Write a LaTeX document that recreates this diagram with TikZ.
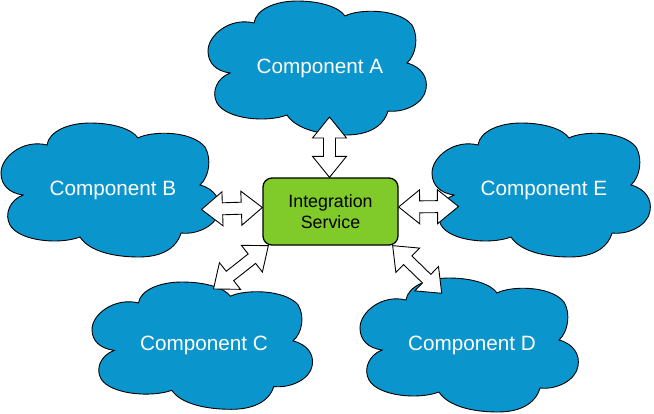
\documentclass[tikz,border=0pt]{standalone}
\usepackage{fontspec}
\setmainfont{Liberation Sans}
\usetikzlibrary{calc}
\definecolor{cloudblue}{RGB}{11,149,205}
\definecolor{svcgreen}{RGB}{128,202,42}
\newcommand\ahl{21pt}
\newcommand\ahw{17pt}
\newcommand\asw{6pt}
\newcommand\dblarrow[2]{%
 \draw[blockarrow] (#1)
  -- ($($(#1)!\ahl!(#2)$)!\ahw!90:(#2)$)
  -- ($($(#1)!\ahl!(#2)$)!\asw!90:(#2)$)
  -- ($($(#2)!\ahl!(#1)$)!\asw!-90:(#1)$)
  -- ($($(#2)!\ahl!(#1)$)!\ahw!-90:(#1)$)
  -- (#2)
  -- ($($(#2)!\ahl!(#1)$)!\ahw!90:(#1)$)
  -- ($($(#2)!\ahl!(#1)$)!\asw!90:(#1)$)
  -- ($($(#1)!\ahl!(#2)$)!\asw!-90:(#2)$)
  -- ($($(#1)!\ahl!(#2)$)!\ahw!-90:(#2)$)
  -- cycle;}
\newcommand\cloudshape{%
 (22,72)
 .. controls (8,70) and (0,62) .. (0,50)
 .. controls (0,34) and (22,16) .. (46,22)
 .. controls (48,8) and (68,0) .. (89,0)
 .. controls (112,0) and (131,6) .. (137,15)
 .. controls (150,8) and (190,7) .. (204,24)
 .. controls (211,36) and (208,54) .. (199,62)
 .. controls (214,66) and (220,77) .. (218,88)
 .. controls (216,102) and (197,112) .. (180,110)
 .. controls (175,127) and (158,134) .. (138,134)
 .. controls (112,134) and (88,128) .. (79,114)
 .. controls (58,122) and (18,118) .. (9,102)
 .. controls (3,91) and (9,77) .. (22,72)
 -- cycle}
\tikzset{
 cloudfill/.style={fill=cloudblue, draw=black, line width=0.9pt},
 cloudtext/.style={anchor=base, text=white, inner sep=0pt, font=\fontsize{20.7}{24}\selectfont},
 svcbox/.style={draw=black, line width=1.3pt, fill=svcgreen, rounded corners=9pt,
   minimum width=135pt, minimum height=67pt, align=center, inner sep=0pt,
   font=\fontsize{17.8}{21.6}\selectfont},
 blockarrow/.style={draw=black, fill=white, line width=0.9pt, line join=miter}
}
\begin{document}
\begin{tikzpicture}[x=1pt,y=-1pt]
\useasboundingbox (0,0) rectangle (654,413);
% clouds
\begin{scope}[shift={(208,1)}] \path[cloudfill] \cloudshape; \end{scope}
\begin{scope}[shift={(1,123)}] \path[cloudfill] \cloudshape; \end{scope}
\begin{scope}[shift={(432,123)}] \path[cloudfill] \cloudshape; \end{scope}
\begin{scope}[shift={(92,282)},yscale=0.95,xscale=1.01] \path[cloudfill] \cloudshape; \end{scope}
\begin{scope}[shift={(360,278)}] \path[cloudfill] \cloudshape; \end{scope}
\node[cloudtext] (A) at (320,73) {Component A};
\node[cloudtext] (B) at (113,195) {Component B};
\node[cloudtext] (E) at (544,195) {Component E};
\node[cloudtext] (C) at (204,350) {Component C};
\node[cloudtext] (D) at (472,350) {Component D};
% service
\node[svcbox] (svc) at (330.5,211.5) {Integration\\Service};
% arrow end points
\coordinate (eA) at (329.5,117);
\coordinate (eB) at (201.5,209.5);
\coordinate (eE) at (458.5,206.5);
\coordinate (eC) at (213.5,289);
\coordinate (eD) at (441.7,293.3);
\coordinate (sA) at ($(svc.north)+(-1,0)$);
\coordinate (sB) at ($(svc.west)+(0,-4)$);
\coordinate (sE) at ($(svc.east)+(0,-4.5)$);
\coordinate (sC) at ($(svc.south west)+(6,0)$);
\coordinate (sD) at ($(svc.south east)+(-6,0)$);
\dblarrow{sA}{eA}
\dblarrow{sB}{eB}
\dblarrow{sE}{eE}
\dblarrow{sC}{eC}
\dblarrow{sD}{eD}
\end{tikzpicture}
\end{document}
